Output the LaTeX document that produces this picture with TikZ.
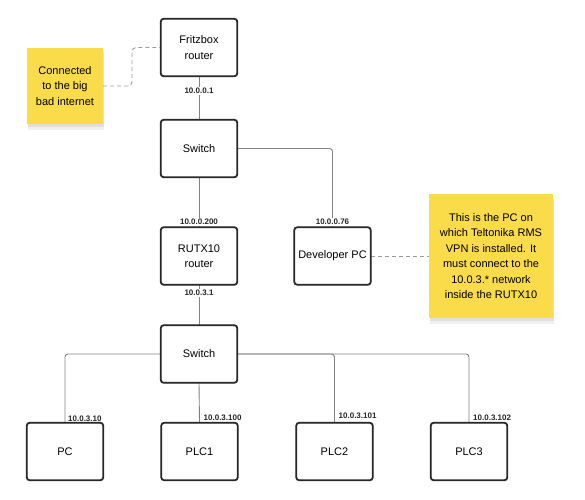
\documentclass[tikz,border=0pt]{standalone}
\usepackage{fontspec}
\setmainfont{Liberation Sans}
\usetikzlibrary{shadows}
\definecolor{noteyellow}{RGB}{250,219,74}
\definecolor{boxline}{RGB}{40,40,40}
\definecolor{conn}{RGB}{130,130,130}
\begin{document}
\begin{tikzpicture}[x=1pt,y=-1pt,
  dev/.style={draw=boxline,line width=1.1pt,rounded corners=3pt,fill=white,minimum width=76pt,minimum height=57pt,inner sep=1pt,align=center,font=\fontsize{11}{15.5}\selectfont},
  note/.style={fill=noteyellow,align=center,font=\fontsize{11}{15.5}\selectfont,
    preaction={fill=black,opacity=0.06,transform canvas={xshift=1pt,yshift=-6pt}},
    drop shadow={shadow xshift=1pt,shadow yshift=-3pt,opacity=0.15}},
  wire/.style={draw=conn,line width=0.9pt,rounded corners=3pt},
  dashwire/.style={draw=conn!80,line width=0.9pt,dashed,dash pattern=on 4pt off 3pt,rounded corners=4pt},
  ip/.style={font=\fontsize{8}{9}\selectfont\bfseries,text=black!85,inner sep=1pt}
]
\useasboundingbox (0,0) rectangle (585,499);

% notes
\node[note,minimum width=76pt,minimum height=76pt] (n1) at (65,86) {Connected\\to the big\\bad internet};
\node[note,minimum width=124pt,minimum height=124pt] (n2) at (491,256) {This is the PC on\\which Teltonika RMS\\VPN is installed. It\\must connect to the\\10.0.3.* network\\inside the RUTX10};

% devices
\node[dev] (fritz) at (199,47.5) {Fritzbox\\router};
\node[dev] (sw1) at (199,148.5) {Switch};
\node[dev] (rutx) at (199,256) {RUTX10\\router};
\node[dev] (devpc) at (332.5,256) {Developer PC};
\node[dev] (sw2) at (199,354) {Switch};
\node[dev] (pc) at (65,451.5) {PC};
\node[dev] (plc1) at (199.5,451.5) {PLC1};
\node[dev] (plc2) at (334.5,451.5) {PLC2};
\node[dev] (plc3) at (469,451.5) {PLC3};

% connectors
\coordinate (c1) at (132,86);
\draw[dashwire] (n1.east) -- (c1) |- (fritz.west);
\draw[dashwire] (devpc.east) -- (n2.west);
\draw[wire] (fritz.south) -- (sw1.north);
\draw[wire] (sw1.south) -- (rutx.north);
\draw[wire] (sw1.east) -| (devpc.north);
\draw[wire] (rutx.south) -- (sw2.north);
\draw[wire] (sw2.west) -| (pc.north);
\draw[wire] (sw2.south) -- (plc1.north);
\draw[wire] (sw2.east) -| (plc2.north);
\draw[wire] (sw2.east) -| (plc3.north);

% redraw boxes on top of wires
\foreach \n in {fritz,sw1,rutx,devpc,sw2,pc,plc1,plc2,plc3}{\draw[draw=boxline,line width=1.1pt,rounded corners=3pt] (\n.south west) rectangle (\n.north east);}

% IP labels
\node[ip,fill=white] (ip1) at (199,91) {10.0.0.1};
\node[ip,fill=white] (ip2) at (199,222) {10.0.0.200};
\node[ip,fill=white] (ip3) at (332.5,222) {10.0.0.76};
\node[ip,fill=white] (ip4) at (199,293) {10.0.3.1};
\node[ip,anchor=south west] (ip5) at (67,423) {10.0.3.10};
\node[ip,anchor=south west] (ip6) at (202.5,422) {10.0.3.100};
\node[ip,anchor=south west] (ip7) at (337.5,420) {10.0.3.101};
\node[ip,anchor=south west] (ip8) at (472,422) {10.0.3.102};
\end{tikzpicture}
\end{document}
